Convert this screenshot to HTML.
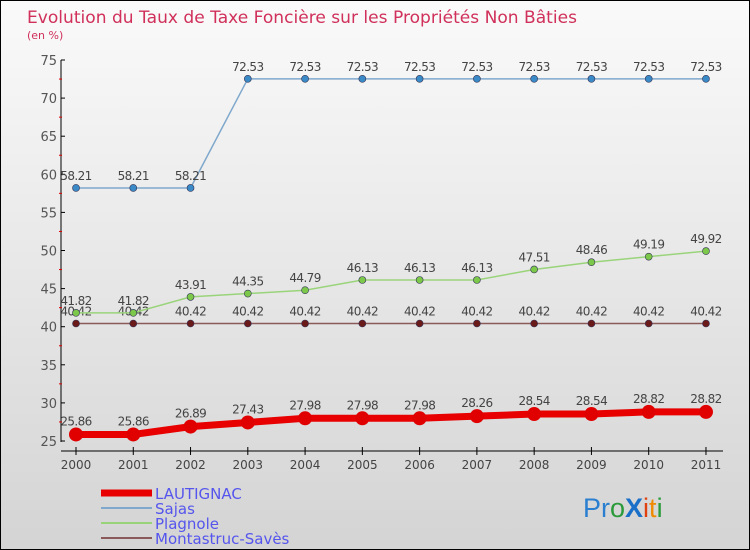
<!DOCTYPE html>
<html><head><meta charset="utf-8"><style>
body{margin:0}
#c{width:748px;height:548px;border:1px solid #000;background:linear-gradient(#fafafa,#d4d4d4);position:relative;font-family:"DejaVu Sans","Liberation Sans",sans-serif;overflow:hidden}
</style></head><body>
<div id="c">
<svg id="s" width="748" height="548" xmlns="http://www.w3.org/2000/svg">
<text x="26" y="22" font-size="17" fill="#d0305a" textLength="550" lengthAdjust="spacingAndGlyphs">Evolution du Taux de Taxe Foncière sur les Propriétés Non Bâties</text>
<text x="26" y="38" font-size="11" fill="#d0305a">(en %)</text>
<g id="g"></g>
<text x="582" y="516" font-size="27" font-family="Liberation Sans, sans-serif"><tspan fill="#2a7fd0">Pr</tspan><tspan fill="#2a9a3a">o</tspan><tspan fill="#1a70c8" font-weight="bold">X</tspan><tspan fill="#e04010">i</tspan><tspan fill="#f08a00">t</tspan><tspan fill="#2a9a3a">i</tspan></text>
</svg>
</div>
<script>
const years=[2000,2001,2002,2003,2004,2005,2006,2007,2008,2009,2010,2011];
const yTicks=[25,30,35,40,45,50,55,60,65,70,75];
const lautignac=[25.86,25.86,26.89,27.43,27.98,27.98,27.98,28.26,28.54,28.54,28.82,28.82];
const sajas=[58.21,58.21,58.21,72.53,72.53,72.53,72.53,72.53,72.53,72.53,72.53,72.53];
const plagnole=[41.82,41.82,43.91,44.35,44.79,46.13,46.13,46.13,47.51,48.46,49.19,49.92];
const montastruc=[40.42,40.42,40.42,40.42,40.42,40.42,40.42,40.42,40.42,40.42,40.42,40.42];
const names=["LAUTIGNAC","Sajas","Plagnole","Montastruc-Savès"];
const NS="http://www.w3.org/2000/svg";
const g=document.getElementById('g');
const X=i=>75+i*57.27, Y=v=>440-(v-25)*7.62;
function el(t,a,p){const e=document.createElementNS(NS,t);for(const k in a)e.setAttribute(k,a[k]);(p||g).appendChild(e);return e;}
let ax=el('line',{x1:60,y1:59,x2:60,y2:441,stroke:'#000'});


let xa=el('line',{x1:60,y1:450,x2:722,y2:450,stroke:'#000'});


yTicks.forEach((v,i)=>{
 el('line',{x1:60,y1:Y(v),x2:64,y2:Y(v),stroke:'#000'});
 if(i<yTicks.length-1) el('line',{x1:58,y1:Y(v+2.5),x2:61,y2:Y(v+2.5),stroke:'#d00'});
 const t=el('text',{x:56,y:Y(v)+5,'text-anchor':'end','font-size':13,fill:'#555'});t.textContent=v;
 
 
});
years.forEach((y,i)=>{
 el('line',{x1:X(i),y1:446,x2:X(i),y2:454,stroke:'#000'});
 const t=el('text',{x:X(i),y:468,'text-anchor':'middle','font-size':12,fill:'#444'});t.textContent=y;
 
 
});
function series(d,col,w,r,fill,name){
 const p=el('polyline',{points:d.map((v,i)=>X(i)+','+Y(v)).join(' '),fill:'none',stroke:col,'stroke-width':w});
 
 
 d.forEach((v,i)=>{
  const c=el('circle',{cx:X(i),cy:Y(v),r:r,fill:fill,stroke:w>3?'none':'#335','stroke-width':0.6});
  
  
  const t=el('text',{x:X(i),y:Y(v)-(w>3?9:8),'text-anchor':'middle','font-size':12,fill:'#444','letter-spacing':'-0.6'});t.textContent=v;
  
  
 });
}
series(montastruc,'#8a5a5a',1.5,3.5,'#6b1a1a','montastruc');
series(plagnole,'#9ad47a',1.5,3.5,'#7cc84a','plagnole');
series(sajas,'#7fa8cc',1.5,3.5,'#3a8ac8','sajas');
series(lautignac,'#e80000',7,7,'#e00000','lautignac');
const lc=['#e80000','#7fa8cc','#9ad47a','#8a5a5a'],lw=[7,2,2,2];
names.forEach((n,i)=>{
 const y=492+i*15;
 const l=el('line',{x1:100,y1:y,x2:151,y2:y,stroke:lc[i],'stroke-width':lw[i]});
 
 
 const t=el('text',{x:154,y:y+6,'font-size':15,fill:'#5555ee'});t.textContent=n;
 
 
});
</script>
</body></html>
